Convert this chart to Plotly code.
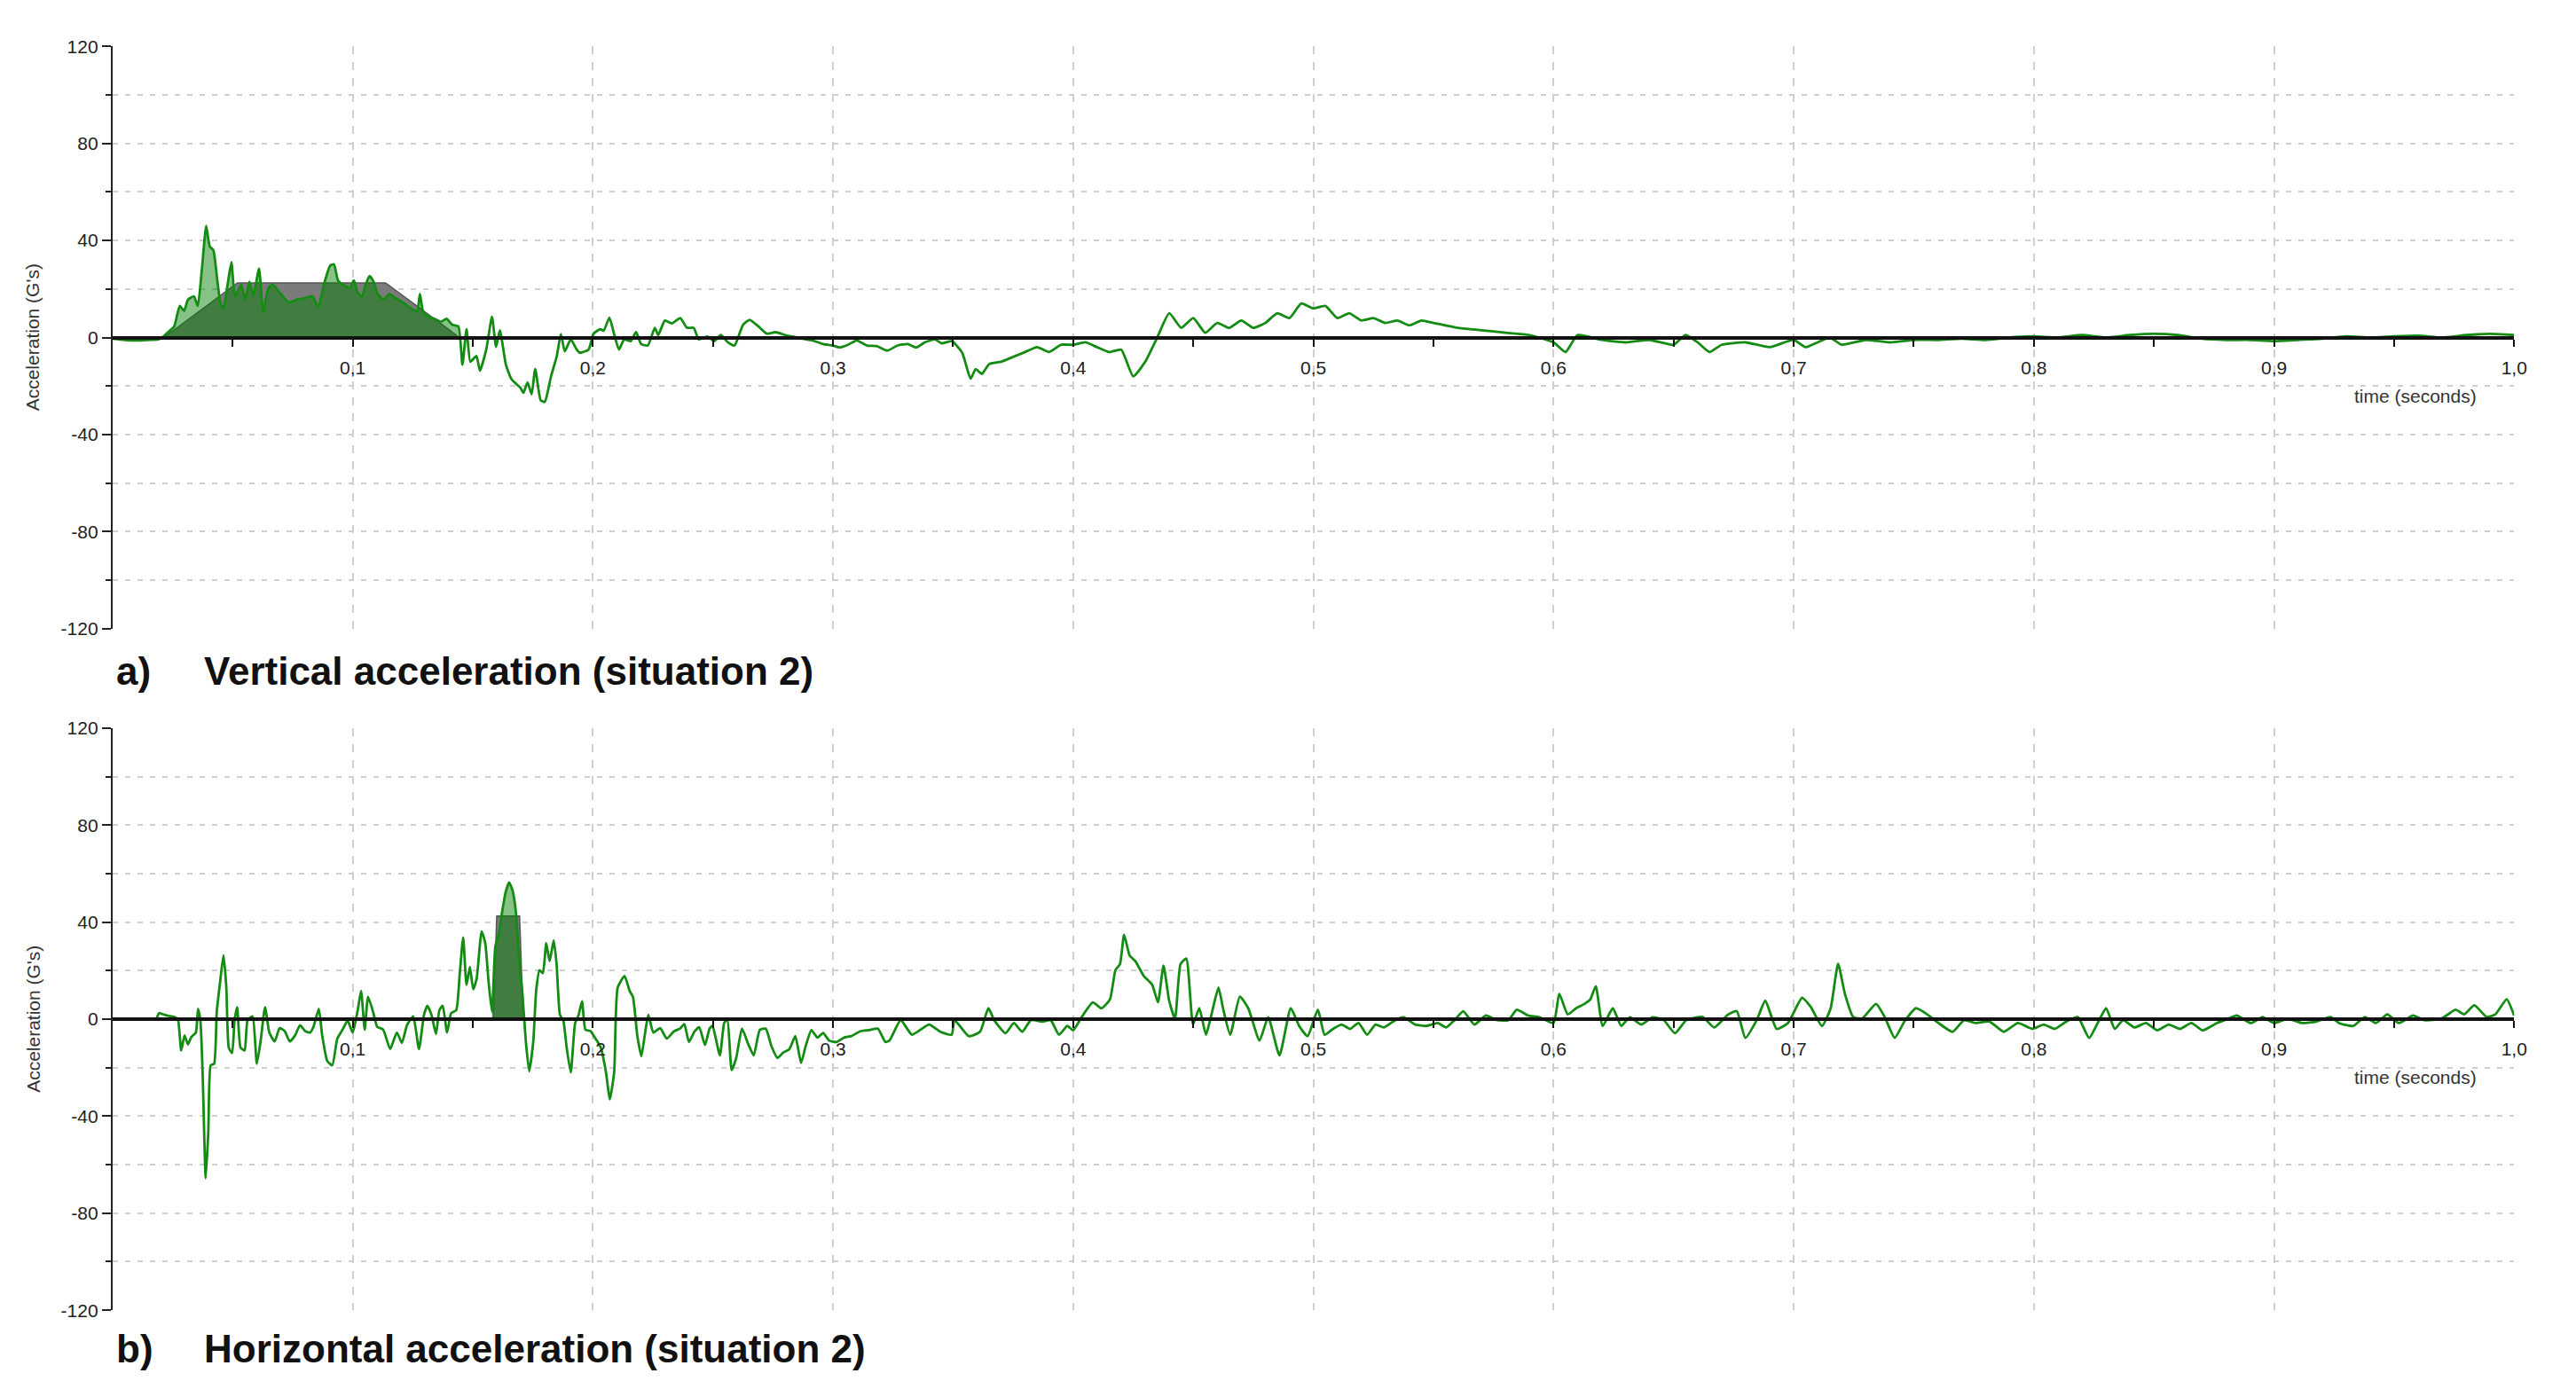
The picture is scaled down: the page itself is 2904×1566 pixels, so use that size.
import numpy as np
import plotly.graph_objects as go

# ---------------- data ----------------
t_vert = [0.000, 0.005, 0.010, 0.015, 0.019, 0.0207, 0.0235, 0.0257, 0.028, 0.0298, 0.0314, 0.0339, 0.0355,
          0.0372, 0.039, 0.0405, 0.042, 0.0437, 0.045, 0.0462, 0.0479, 0.0495, 0.051, 0.0536, 0.0553, 0.057,
          0.0586, 0.061, 0.0627, 0.065, 0.0668, 0.070, 0.0734, 0.0766, 0.080, 0.0832, 0.0857, 0.088, 0.0906,
          0.0922, 0.0939, 0.096, 0.0988, 0.1005, 0.102, 0.1038, 0.1054, 0.107, 0.1087, 0.1104, 0.1128, 0.1153,
          0.1178, 0.121, 0.1243, 0.1268, 0.128, 0.1293, 0.1318, 0.1342, 0.1367, 0.1391, 0.1416, 0.144, 0.1457,
          0.1474, 0.149, 0.1515, 0.153, 0.1556, 0.158, 0.1597, 0.1613, 0.1638, 0.1662, 0.1699, 0.1711, 0.1728,
          0.1745, 0.1760, 0.1783, 0.1800, 0.1826, 0.1850, 0.1867, 0.1883, 0.1908, 0.1933, 0.1946, 0.1982,
          0.2003, 0.2031, 0.2045, 0.2069, 0.2088, 0.2109, 0.213, 0.2158, 0.218, 0.2201, 0.2229, 0.2258, 0.2272,
          0.230, 0.2328, 0.2364, 0.2392, 0.242, 0.2441, 0.2477, 0.2505, 0.2533, 0.2562, 0.259, 0.2625, 0.2653,
          0.2689, 0.2724, 0.276, 0.2802, 0.283, 0.2873, 0.2915, 0.2958, 0.300, 0.3028, 0.3064, 0.3099, 0.3141,
          0.3184, 0.3226, 0.3269, 0.3311, 0.3347, 0.3382, 0.3424, 0.3453, 0.3495, 0.3538, 0.3573, 0.3594,
          0.362, 0.365, 0.370, 0.375, 0.380, 0.385, 0.390, 0.395, 0.400, 0.405, 0.410, 0.415, 0.420, 0.425,
          0.430, 0.435, 0.440, 0.445, 0.450, 0.455, 0.460, 0.465, 0.470, 0.475, 0.480, 0.485, 0.490, 0.495,
          0.500, 0.505, 0.510, 0.515, 0.520, 0.525, 0.530, 0.535, 0.540, 0.545, 0.550, 0.555, 0.560, 0.570,
          0.580, 0.590, 0.600, 0.605, 0.610, 0.620, 0.630, 0.640, 0.650, 0.655, 0.660, 0.665, 0.670, 0.680,
          0.690, 0.700, 0.705, 0.710, 0.715, 0.720, 0.730, 0.740, 0.750, 0.760, 0.770, 0.780, 0.790, 0.800,
          0.810, 0.820, 0.830, 0.840, 0.850, 0.860, 0.870, 0.880, 0.890, 0.900, 0.910, 0.920, 0.930, 0.940,
          0.950, 0.960, 0.970, 0.980, 0.990, 1.000]
acc_vert = [-0.5, -1.0, -1.2, -1.0, -0.8, 0.0, 2.5, 4.6, 13.0, 11.0, 15.6, 17.0, 13.0,
            28.0, 46.0, 37.5, 36.0, 23.0, 14.0, 12.0, 21.7, 31.0, 17.0, 21.7, 15.6, 23.0,
            17.0, 28.4, 10.7, 20.5, 21.7, 18.0, 14.4, 15.6, 16.2, 17.0, 12.6, 21.7, 29.6,
            30.2, 23.5, 21.7, 20.5, 23.5, 18.7, 16.8, 21.7, 25.4, 23.0, 18.0, 15.6, 18.0,
            16.2, 14.4, 12.0, 10.7, 18.0, 10.7, 8.3, 7.7, 6.5, 7.7, 5.2, 4.6, -11.2,
            3.4, -10.0, -7.6, -13.7, -5.0, 8.5, -3.9, 3.0, -11.2, -17.3, -20.8, -22.8, -18.5,
            -23.4, -13.0, -25.9, -26.5, -16.0, -7.6, 1.4, -5.7, -0.8, -5.0, -6.3, -5.0,
            1.6, 3.4, 2.8, 8.2, 1.6, -5.0, -0.8, -1.5, 2.2, -2.7, -3.3, 4.0, 1.0,
            7.0, 5.8, 8.0, 4.0, 4.0, -0.8, 0.4, -1.5, 1.0, -2.0, -3.3, 5.2, 7.3,
            4.6, 1.6, 2.2, 1.0, 0.4, -0.5, -1.2, -2.7, -3.3, -4.1, -2.9, -1.2, -3.3,
            -3.6, -5.4, -3.3, -2.7, -4.1, -2.0, -0.8, -2.4, -1.5, -6.3, -17.0, -13.0,
            -15.0, -11.0, -10.0, -8.0, -6.0, -4.0, -6.0, -3.0, -3.0, -2.0, -4.0, -6.0, -5.0, -16.0,
            -10.0, 0.0, 10.0, 4.0, 8.0, 2.0, 6.0, 4.0, 7.0, 4.0, 6.0, 10.0, 8.0, 14.0,
            12.0, 13.0, 8.0, 10.0, 7.0, 8.0, 6.0, 7.0, 5.0, 7.0, 6.0, 5.0, 4.0, 3.0,
            2.0, 1.0, -2.0, -6.0, 1.0, -1.0, -2.0, -1.0, -3.0, 1.0, -2.0, -6.0, -3.0, -2.0,
            -4.0, -1.0, -4.0, -2.0, 0.0, -3.0, -1.0, -2.0, -1.0, -1.0, -0.5, -1.0, 0.0, 0.5,
            0.0, 1.0, 0.0, 1.0, 1.5, 1.0, -0.5, -1.0, -1.0, -1.5, -1.0, -0.5, 0.5, 0.0,
            0.5, 0.8, 0.0, 1.0, 1.5, 1.0]

t_horiz = [0.0183, 0.0194, 0.0222, 0.0257, 0.0272, 0.0286, 0.030, 0.0314, 0.0328, 0.0347, 0.0356, 0.0366,
           0.0375, 0.0388, 0.0399, 0.0409, 0.0423, 0.0434, 0.0448, 0.0462, 0.0474, 0.0484, 0.0498, 0.0508,
           0.0519, 0.0533, 0.055, 0.0562, 0.0583, 0.0601, 0.0618, 0.0635, 0.0653, 0.0675, 0.0696, 0.0717,
           0.0738, 0.076, 0.0781, 0.0802, 0.0823, 0.0837, 0.0859, 0.0873, 0.0894, 0.0915, 0.0936, 0.0958,
           0.0979, 0.100, 0.1021, 0.1035, 0.105, 0.1064, 0.1085, 0.1102, 0.1127, 0.1156, 0.1184, 0.1205,
           0.1226, 0.1252, 0.1276, 0.1297, 0.1311, 0.1328, 0.1347, 0.1361, 0.1375, 0.1393, 0.141, 0.1431,
           0.1446, 0.146, 0.1474, 0.1488, 0.1502, 0.1516, 0.1537, 0.1552, 0.1566, 0.158, 0.1594, 0.1608,
           0.1622, 0.1636, 0.1651, 0.1665, 0.1679, 0.1693, 0.1707, 0.1721, 0.1735, 0.1752, 0.1764, 0.1778,
           0.1792, 0.1806, 0.182, 0.1837, 0.1849, 0.1863, 0.1877, 0.1891, 0.1908, 0.1926, 0.1941, 0.1955,
           0.1969, 0.199, 0.2011, 0.2033, 0.2054, 0.2071, 0.2089, 0.2103, 0.2132, 0.2153, 0.2167, 0.2185,
           0.2202, 0.2216, 0.2231, 0.2252, 0.228, 0.2308, 0.2338, 0.2363, 0.2381, 0.240, 0.2424, 0.2443,
           0.2467, 0.2486, 0.2498, 0.2529, 0.2547, 0.256, 0.2578, 0.2597, 0.2621, 0.2646, 0.267, 0.2695,
           0.272, 0.2744, 0.2769, 0.2793, 0.2818, 0.2843, 0.2867, 0.2886, 0.291, 0.2935, 0.2959, 0.2984,
           0.3015, 0.3046, 0.3076, 0.3113, 0.315, 0.3187, 0.3218, 0.3235, 0.3282, 0.3329, 0.340, 0.3447,
           0.3494, 0.3506, 0.3565, 0.3612, 0.3647, 0.3671, 0.3718, 0.3753, 0.3788, 0.3824, 0.3871, 0.3906,
           0.3941, 0.3976, 0.400, 0.4035, 0.4082, 0.4118, 0.4153, 0.4176, 0.4195, 0.4212, 0.4235, 0.4259,
           0.4294, 0.4329, 0.4353, 0.4376, 0.440, 0.4424, 0.4447, 0.4471, 0.4499, 0.4525, 0.4553, 0.4576,
           0.4605, 0.4624, 0.4654, 0.4694, 0.4729, 0.4776, 0.4812, 0.4859, 0.4906, 0.4941, 0.4976, 0.5019,
           0.5047, 0.5082, 0.5118, 0.5153, 0.5188, 0.5224, 0.5259, 0.5294, 0.5341, 0.5376, 0.5424, 0.5471,
           0.5518, 0.5553, 0.5588, 0.5624, 0.5671, 0.5718, 0.5765, 0.5812, 0.5847, 0.5894, 0.5941, 0.600,
           0.6024, 0.6059, 0.6094, 0.6129, 0.6153, 0.6176, 0.6205, 0.6247, 0.6282, 0.6318, 0.6365, 0.6412,
           0.6459, 0.6506, 0.6553, 0.6621, 0.6669, 0.6728, 0.6763, 0.6799, 0.6846, 0.6882, 0.6929, 0.6976,
           0.7035, 0.7071, 0.7118, 0.7154, 0.7185, 0.7213, 0.7248, 0.7284, 0.7343, 0.7379, 0.7421, 0.7461,
           0.7509, 0.7556, 0.7603, 0.7662, 0.771, 0.7757, 0.7816, 0.7875, 0.7934, 0.7994, 0.8041, 0.8088,
           0.8135, 0.8183, 0.823, 0.8266, 0.8301, 0.8337, 0.8372, 0.8419, 0.8467, 0.8514, 0.8561, 0.8609,
           0.8656, 0.8703, 0.8762, 0.881, 0.8845, 0.8904, 0.8952, 0.900, 0.9058, 0.9117, 0.9176, 0.9236,
           0.9271, 0.933, 0.9378, 0.9425, 0.9472, 0.952, 0.9579, 0.9626, 0.9697, 0.9756, 0.9792, 0.9834,
           0.9886, 0.9922, 0.9969, 1.000]
acc_horiz = [0.0, 2.5, 1.6, 0.9, 0.0, -12.9, -6.7, -10.4, -7.4, -5.5, 4.3, -0.6,
             -21.5, -65.6, -46.0, -19.0, -18.4, 3.0, 15.3, 26.4, 12.9, -11.7, -14.0, -0.6,
             4.9, -11.7, -12.9, -0.6, 1.2, -18.4, -8.0, 4.9, -5.5, -9.2, -3.7, -4.9,
             -9.2, -6.7, -2.5, -4.9, -5.5, -3.1, 4.3, -6.7, -17.2, -19.0, -8.0, -4.3,
             -0.6, -5.5, 3.7, 11.7, -4.3, 9.2, 3.0, -3.1, -4.3, -12.3, -5.5, -9.8,
             -2.5, 1.2, -12.3, 1.8, 5.5, 1.8, -6.1, 3.7, 5.5, -5.5, 2.5, 3.7,
             19.0, 33.7, 14.1, 21.5, 12.3, 16.6, 36.2, 31.3, 15.3, 3.0, 30.0, 35.0,
             44.0, 52.0, 56.4, 53.4, 44.8, 25.2, 10.4, -9.2, -21.5, -9.2, 11.7, 20.2,
             19.0, 31.3, 23.9, 32.5, 22.7, 1.8, -0.6, -11.7, -22.0, -1.8, 1.8, 7.4,
             -4.3, -4.9, -8.0, -11.7, -21.5, -33.0, -21.5, 12.9, 17.8, 11.7, 9.2, -6.7,
             -15.3, -6.7, 1.8, -5.5, -3.7, -8.0, -5.0, -3.9, -2.0, -9.4, -5.0, -3.3,
             -10.6, -3.9, -2.7, -14.9, -1.5, -0.2, -21.0, -16.0, -3.9, -10.0, -14.9, -4.5,
             -3.9, -11.2, -16.0, -13.7, -12.4, -7.0, -18.0, -11.2, -4.5, -7.6, -5.7, -8.8,
             -9.4, -7.6, -7.0, -5.0, -4.5, -3.9, -9.4, -8.8, -0.4, -6.4, -2.2, -5.2,
             -6.4, -0.4, -7.0, -5.2, 4.5, -0.4, -5.8, -1.6, -5.2, -0.4, -1.0, -0.4,
             -6.4, -2.8, -4.6, 0.8, 6.9, 4.5, 8.1, 20.2, 22.7, 34.8, 26.3, 23.9,
             17.8, 14.2, 6.9, 22.1, 7.5, 0.2, 22.7, 25.0, -2.2, 4.5, -6.4, 2.0,
             13.0, 4.5, -6.4, 9.3, 4.5, -8.8, 0.8, -14.9, 4.5, -2.8, -7.0, 3.9,
             -6.4, -4.0, -2.2, -4.0, -1.6, -6.4, -2.2, -3.4, -0.4, 0.8, -2.2, -2.8,
             -1.6, -3.4, -0.4, 3.3, -2.2, 1.5, -0.4, -0.4, 3.9, 1.5, 0.8, -1.6,
             10.5, 2.0, 4.5, 6.3, 8.1, 13.6, -2.8, 4.5, -2.8, 0.8, -2.2, 0.8,
             -0.4, -5.8, -0.4, 0.9, -3.4, 2.0, 3.3, -7.7, -0.4, 7.6, -4.0, -1.6,
             8.8, 5.1, -2.8, 4.5, 22.8, 10.6, 0.9, 0.2, 6.3, 0.9, -7.7, -1.0,
             4.5, 2.0, -1.6, -5.2, -0.4, -1.6, -1.0, -5.2, -1.6, -4.0, -2.2, -4.0,
             -1.0, 0.9, -7.7, -1.6, 4.5, -4.0, -0.4, -3.4, -1.6, -4.6, -2.2, -4.0,
             -1.6, -4.6, -1.6, 0.2, 1.5, -1.6, 0.9, -1.6, 0.2, -1.6, -1.0, 0.9,
             -1.6, -2.8, 0.9, -1.6, 2.0, -1.6, 1.5, -0.4, 0.2, 3.9, 2.0, 5.7,
             0.9, 2.0, 8.2, 1.5]

# reference pulses (grey corridors) and the shaded windows of the signal
pulse_vert_t = [0.0214, 0.052, 0.1137, 0.1445]
pulse_vert_g = [0.0, 22.5, 22.5, 0.0]
pulse_horiz_t = [0.1585, 0.1600, 0.1695, 0.1710]
pulse_horiz_g = [0.0, 42.5, 42.5, 0.0]
window_vert = [0.0207, 0.1445]
window_horiz = [0.158, 0.1708]

time_ticks = [0.1, 0.2, 0.3, 0.4, 0.5, 0.6, 0.7, 0.8, 0.9, 1.0]
time_minor_ticks = [0.05, 0.15, 0.25, 0.35, 0.45, 0.55, 0.65, 0.75, 0.85, 0.95]
acc_ticks = [-120, -80, -40, 0, 40, 80, 120]
acc_tick_labels = ['-120', '-80', '-40', '0', '40', '80', '120']
acc_minor_ticks = [-100, -60, -20, 20, 60, 100]

# ---------------- layout geometry ----------------
W, H = 2904, 1566
XD = [127.5 / W, 2849 / W]
YD_TOP = [1 - 707 / H, 1 - 41 / H]
YD_BOT = [1 - 1487 / H, 1 - 821 / H]

GREEN = '#148c14'
GRID = '#cfcfcf'
NARROW = 'Liberation Sans Narrow, Arial Narrow, Liberation Sans, Arial, sans-serif'

fig = go.Figure()


def add_panel(t, g, pt, pg, win, xa, ya):
    t = np.asarray(t)
    g = np.asarray(g)
    fig.add_trace(go.Scatter(x=pt, y=pg, xaxis=xa, yaxis=ya, mode='lines', fill='toself',
                             fillcolor='#7b7b7b', line=dict(color='#555555', width=1.5),
                             hoverinfo='skip', showlegend=False))
    m = (t >= win[0]) & (t <= win[1])
    fig.add_trace(go.Scatter(x=t[m], y=g[m], xaxis=xa, yaxis=ya, mode='lines', fill='tozeroy',
                             fillcolor='rgba(0,128,0,0.47)', line=dict(width=0, shape='spline', smoothing=0.5),
                             hoverinfo='skip', showlegend=False))
    fig.add_trace(go.Scatter(x=t, y=g, xaxis=xa, yaxis=ya, mode='lines',
                             line=dict(color=GREEN, width=2.8, shape='spline', smoothing=0.5),
                             showlegend=False))


add_panel(t_vert, acc_vert, pulse_vert_t, pulse_vert_g, window_vert, 'x', 'y')
add_panel(t_horiz, acc_horiz, pulse_horiz_t, pulse_horiz_g, window_horiz, 'x2', 'y2')


def xaxis_cfg(yd):
    return dict(domain=XD, anchor='free', position=(yd[0] + yd[1]) / 2, range=[0, 1.0],
                showline=True, linecolor='#111111', linewidth=4,
                ticks='outside', ticklen=8, tickwidth=2, tickcolor='#111111',
                tickmode='array', tickvals=time_ticks, tickformat='.1f',
                ticklabelstandoff=6,
                tickfont=dict(family=NARROW, size=21, color='#222222'),
                showgrid=True, gridcolor=GRID, gridwidth=1.5, griddash='dash',
                minor=dict(tickmode='array', tickvals=time_minor_ticks, ticks='outside',
                           ticklen=8, tickwidth=2, tickcolor='#111111', showgrid=False),
                zeroline=False, fixedrange=True)


def yaxis_cfg(yd, anchor_x):
    return dict(domain=yd, anchor=anchor_x, range=[-120, 120],
                showline=True, linecolor='#222222', linewidth=2,
                ticks='outside', ticklen=10, tickwidth=2, tickcolor='#222222',
                tickmode='array', tickvals=acc_ticks, ticktext=acc_tick_labels,
                tickfont=dict(family=NARROW, size=21, color='#222222'),
                showgrid=True, gridcolor=GRID, gridwidth=1.5, griddash='6px,8px',
                minor=dict(tickmode='array', tickvals=acc_minor_ticks, ticks='outside',
                           ticklen=6, tickwidth=2, tickcolor='#222222',
                           showgrid=True, gridcolor=GRID, gridwidth=1.5, griddash='6px,8px'),
                zeroline=False, fixedrange=True)


annotations = []
for yref, title_y, label, title in [('y', 1 - 756 / H, 'a)', 'Vertical acceleration (situation 2)'),
                                    ('y2', 1 - 1531 / H, 'b)', 'Horizontal acceleration (situation 2)')]:
    xref = 'x' if yref == 'y' else 'x2'
    annotations.append(dict(text="Acceleration (G's)", xref='paper', yref=yref, x=37 / W, y=0,
                            textangle=-90, showarrow=False, xanchor='center', yanchor='middle',
                            font=dict(family=NARROW, size=21, color='#333333')))
    annotations.append(dict(text='time (seconds)', xref=xref, yref=yref, x=0.959, y=-24,
                            showarrow=False, xanchor='center', yanchor='middle',
                            font=dict(family=NARROW, size=21, color='#333333')))
    annotations.append(dict(text=f'<b>{label}</b>', xref='paper', yref='paper', x=130 / W, y=title_y,
                            showarrow=False, xanchor='left', yanchor='middle',
                            font=dict(family='Liberation Sans, Arial, sans-serif', size=44, color='#111111')))
    annotations.append(dict(text=f'<b>{title}</b>', xref='paper', yref='paper', x=229 / W, y=title_y,
                            showarrow=False, xanchor='left', yanchor='middle',
                            font=dict(family='Liberation Sans, Arial, sans-serif', size=44, color='#111111')))

fig.update_layout(
    width=W, height=H,
    margin=dict(l=0, r=0, t=0, b=0),
    paper_bgcolor='white', plot_bgcolor='white',
    separators=',.',
    showlegend=False,
    xaxis=xaxis_cfg(YD_TOP),
    yaxis=yaxis_cfg(YD_TOP, 'x'),
    xaxis2=xaxis_cfg(YD_BOT),
    yaxis2=yaxis_cfg(YD_BOT, 'x2'),
    annotations=annotations,
)

fig.write_html('out.html', config={'displayModeBar': False},
               post_script="document.body.style.margin='0';document.body.style.overflow='hidden';")
